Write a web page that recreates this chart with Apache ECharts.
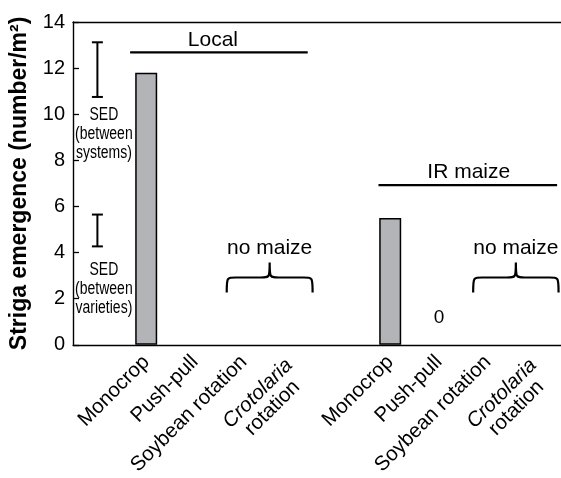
<!DOCTYPE html>
<html>
<head>
<meta charset="utf-8">
<script src="https://cdn.jsdelivr.net/npm/echarts@6/dist/echarts.min.js"></script>
<style>
  html, body { margin: 0; padding: 0; background: #fff; }
  #chart { width: 561px; height: 478px; }
</style>
</head>
<body>
<div id="chart"></div>
<script>
// Striga emergence per cropping system, for a local and an IR maize variety
const tickLabels = ['', 'Monocrop', 'Push-pull', 'Soybean rotation', 'Crotolaria rotation',
                    '', 'Monocrop', 'Push-pull', 'Soybean rotation', 'Crotolaria rotation'];
const localValues = [11.8, null, null, null];   // Monocrop, Push-pull, Soybean, Crotolaria
const irValues = [5.5, 0, null, null];
const yTicks = { min: 0, max: 14, step: 2 };
const sedSystems = 2.37;     // SED between systems
const sedVarieties = 1.38;   // SED between varieties
const groupNames = ['Local', 'IR maize'];
const noMaizeText = 'no maize';

const FONT = '"Liberation Sans", Arial, Helvetica, sans-serif';

const values = [null].concat(localValues, [null], irValues);
// a zero count has no visible bar, so it gets a value label instead
const barData = values.map(v => v === 0
  ? { value: v, itemStyle: { borderWidth: 0 }, label: { show: true } }
  : v);

// annotation placement in axis units (category index, y value)
const sedBars = [
  { x: 0, hi: 13.12, lo: 13.12 - sedSystems, text: 'SED\n(between\nsystems)', ty: 9.15 },
  { x: 0, hi: 5.65, lo: 5.65 - sedVarieties, text: 'SED\n(between\nvarieties)', ty: 2.42 }
];
const groupLines = [
  { from: 1.17, to: 4.81, y: 12.68, name: groupNames[0], shift: -6 },
  { from: 6.26, to: 9.92, y: 6.93, name: groupNames[1], shift: 1 }
];
const braces = [
  { from: 3.15, to: 4.91, y: 2.27 },
  { from: 8.2, to: 9.95, y: 2.27 }
];

const chart = echarts.init(document.getElementById('chart'), null, { renderer: 'canvas' });

// pixel x of a position measured in category widths from the y axis
function edgeX(api, c, y) {
  const a = api.coord([0, y]);
  const b = api.coord([1, y]);
  const w = b[0] - a[0];
  return [a[0] - w / 2 + w * c, a[1]];
}

const LABEL_SIZE = 20.5;

chart.setOption({
  animation: false,
  grid: { left: 73, top: 22, width: 489, height: 328, containLabel: false },
  xAxis: [{
    type: 'category',
    data: tickLabels,
    boundaryGap: true,
    axisLine: { lineStyle: { color: '#000', width: 1.4 } },
    axisTick: { inside: true, length: 6, interval: 0, lineStyle: { color: '#000', width: 1.3 } },
    axisLabel: {
      interval: 0, rotate: 45, margin: 14, color: '#000', fontSize: LABEL_SIZE, fontFamily: FONT,
      formatter: v => v === 'Crotolaria rotation' ? '{e| }\n{i|Crotolaria}\n{n|rotation}' : v,
      rich: {
        e: { fontSize: LABEL_SIZE, fontFamily: FONT, width: 98 },
        i: { fontStyle: 'italic', fontSize: LABEL_SIZE, fontFamily: FONT, width: 98, align: 'center', color: '#000' },
        n: { fontSize: LABEL_SIZE, fontFamily: FONT, width: 98, align: 'center', color: '#000' }
      }
    },
    splitLine: { show: false }
  }, {
    type: 'category',
    position: 'top',
    data: tickLabels,
    axisLine: { lineStyle: { color: '#000', width: 1.4 } },
    axisTick: { show: false },
    axisLabel: { show: false }
  }],
  yAxis: {
    type: 'value',
    min: yTicks.min, max: yTicks.max, interval: yTicks.step,
    name: 'Striga emergence (number/m²)',
    nameLocation: 'middle',
    nameGap: 42,
    nameTextStyle: { fontSize: 23, fontWeight: 'bold', fontFamily: FONT, color: '#000' },
    axisLine: { show: true, lineStyle: { color: '#000', width: 1.4 } },
    axisTick: { show: true, inside: true, length: 6, lineStyle: { color: '#000', width: 1.3 } },
    axisLabel: { color: '#000', fontSize: 20, fontFamily: FONT, margin: 8 },
    splitLine: { show: false }
  },
  series: [{
    type: 'bar',
    data: barData,
    barWidth: 22,
    itemStyle: { color: '#b2b4b7', borderColor: '#000', borderWidth: 1.5 },
    label: { show: false, position: 'top', distance: 18, color: '#000', fontSize: 19, fontFamily: FONT, formatter: p => String(p.value) }
  }, {
    // SED error bars with their captions
    type: 'custom',
    silent: true,
    data: sedBars.map(s => [s.x, s.hi, s.lo, s.ty]),
    renderItem: (params, api) => {
      const s = sedBars[params.dataIndex];
      const top = api.coord([s.x, s.hi]);
      const bot = api.coord([s.x, s.lo]);
      const tp = api.coord([s.x, s.ty]);
      const cap = 5.5;
      const ls = { stroke: '#000', lineWidth: 2 };
      return { type: 'group', children: [
        { type: 'line', shape: { x1: top[0], y1: top[1], x2: bot[0], y2: bot[1] }, style: ls },
        { type: 'line', shape: { x1: top[0] - cap, y1: top[1], x2: top[0] + cap, y2: top[1] }, style: ls },
        { type: 'line', shape: { x1: bot[0] - cap, y1: bot[1], x2: bot[0] + cap, y2: bot[1] }, style: ls },
        { type: 'text', x: tp[0] + 6.5, y: tp[1], scaleX: 0.8, style: {
            text: s.text, fill: '#000', fontSize: 17.5, fontFamily: FONT,
            align: 'center', verticalAlign: 'middle', lineHeight: 19 } }
      ] };
    }
  }, {
    // group brackets: Local / IR maize
    type: 'custom',
    silent: true,
    data: groupLines.map(g => [g.from, g.y, g.to]),
    renderItem: (params, api) => {
      const g = groupLines[params.dataIndex];
      const p1 = edgeX(api, g.from, g.y);
      const p2 = edgeX(api, g.to, g.y);
      const y = p1[1];
      return { type: 'group', children: [
        { type: 'line', shape: { x1: p1[0], y1: y, x2: p2[0], y2: y }, style: { stroke: '#000', lineWidth: 2.2 } },
        { type: 'text', x: (p1[0] + p2[0]) / 2 + g.shift, y: y - 2, style: {
            text: g.name, fill: '#000', fontSize: 21, fontFamily: FONT, align: 'center', verticalAlign: 'bottom' } }
      ] };
    }
  }, {
    // "no maize" braces over the rotation systems
    type: 'custom',
    silent: true,
    data: braces.map(b => [b.from, b.y, b.to]),
    renderItem: (params, api) => {
      const b = braces[params.dataIndex];
      const pl = edgeX(api, b.from, b.y);
      const pr = edgeX(api, b.to, b.y);
      const xl = pl[0], xr = pr[0];
      const xm = (xl + xr) / 2;
      const yb = pl[1];
      const ym = yb - 15;
      const yt = yb - 30;
      const r = 9;
      const path = `M${xl},${yb} C${xl},${ym} ${xl},${ym} ${xl + r},${ym} ` +
                   `L${xm - r},${ym} C${xm},${ym} ${xm},${ym} ${xm},${yt} ` +
                   `C${xm},${ym} ${xm},${ym} ${xm + r},${ym} ` +
                   `L${xr - r},${ym} C${xr},${ym} ${xr},${ym} ${xr},${yb}`;
      return { type: 'group', children: [
        { type: 'path', shape: { pathData: path }, style: { stroke: '#000', lineWidth: 2.2, fill: null } },
        { type: 'text', x: xm, y: yt - 4, style: {
            text: noMaizeText, fill: '#000', fontSize: 21, fontFamily: FONT, align: 'center', verticalAlign: 'bottom' } }
      ] };
    }
  }]
});
</script>
</body>
</html>
